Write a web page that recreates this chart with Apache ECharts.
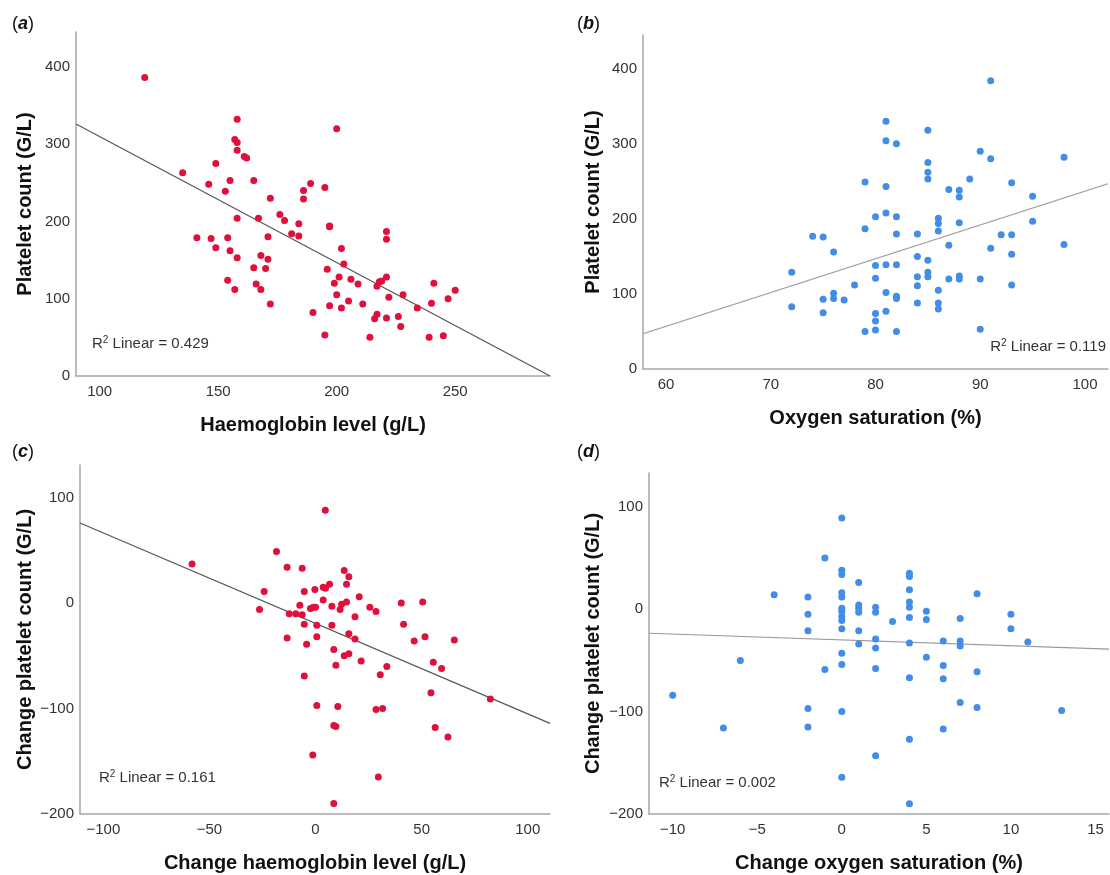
<!DOCTYPE html>
<html style="height: 100%">
<head>
    <meta charset="utf-8">
    <script src="https://cdn.jsdelivr.net/npm/echarts@6/dist/echarts.min.js"></script>
</head>
<body style="height: 100%; margin: 0; background: #fff">
<div id="container" style="width: 1110px; height: 875px"></div>

<script type="text/javascript">
    // (a) haemoglobin vs platelet count
    var hbA = [119,158,200,157,158,158,161,162,149,135,146,155,165,153,189,195,186,186,172,176,
        178,158,167,184,197,197,181,184,141,147,154,171,221,221,149,202,155,158,168,171,
        203,165,170,196,201,221,206,209,199,218,219,217,154,166,157,168,241,250,200,222,
        228,247,240,172,197,205,211,202,234,190,217,216,221,226,227,195,214,239,245];
    var pltA = [386,332,320,306,302,292,284,282,275,263,248,253,253,239,249,244,240,229,230,209,
        201,204,204,197,194,193,184,181,179,178,179,180,187,177,166,165,162,153,156,151,
        145,140,139,138,128,128,125,119,120,122,123,116,124,119,112,112,120,111,105,102,
        105,100,94,93,91,97,93,88,88,82,80,74,75,77,64,53,50,50,52];

    // (b) oxygen saturation vs platelet count
    var spoB = [91,81,85,81,82,90,91,98,85,85,85,89,79,81,93,87,88,88,95,80,
        81,82,86,86,88,95,86,79,74,75,82,84,92,93,76,87,91,98,93,84,
        85,72,80,81,82,85,85,84,80,87,88,88,90,78,84,93,86,81,76,76,
        75,77,82,82,72,84,86,86,75,81,80,80,79,80,82,90];
    var pltB = [384,330,318,304,300,290,280,282,275,262,253,253,249,243,248,239,238,229,230,203,
        208,203,201,194,195,197,184,187,177,176,180,180,179,179,156,165,161,166,153,150,
        145,129,138,139,139,129,123,123,121,120,124,120,120,112,111,112,105,102,101,94,
        93,92,97,94,83,88,88,80,75,77,74,64,50,52,50,53];

    // (c) change haemoglobin vs change platelet count
    var dHbC = [4.6,-18.4,-58.2,-13.4,-6.3,13.5,15.7,-24.2,-5.3,-0.3,3.6,4.7,6.6,14.6,20.6,3.6,-7.4,-2.4,-1.1,0,
        7.7,12.3,14.6,11.6,25.6,28.5,40.4,50.5,-26.4,-12.4,-9.3,-6.3,18.6,-5.3,0.6,7.7,41.5,-13.4,0.6,15.7,
        18.6,46.5,51.6,65.4,-4.2,8.6,15.7,13.5,21.5,55.5,9.6,33.6,59.4,30.5,-5.3,54.4,82.4,0.6,10.5,28.5,
        31.6,8.6,9.6,56.4,62.4,-1.3,29.6,8.6];
    var dPltC = [88,49,37,34,33,31,25,11,11,13,15,14,18,18,6,3,-2,-5,-4,-4,
        -3,-1,1,-6,-4,-8,0,1,-6,-10,-10,-11,-13,-20,-21,-21,-20,-33,-32,-29,
        -34,-36,-32,-35,-39,-44,-48,-50,-55,-56,-59,-60,-62,-68,-69,-85,-91,-97,-98,-101,
        -100,-116,-117,-118,-127,-144,-165,-190];

    // (d) change oxygen saturation vs change platelet count
    var dSpoD = [0,-1,0,0,1,4,4,-4,-2,0,0,4,8,0,0,0,0,1,1,1,
        2,2,4,4,5,5,-2,4,3,7,10,-2,0,1,10,2,6,7,7,11,
        1,4,2,0,-6,5,0,6,-1,2,8,4,6,-10,7,-2,8,0,13,-7,
        -2,6,4,2,0,4];
    var dPltD = [89,50,38,34,26,35,32,14,12,16,12,19,15,1,-2,-7,-11,4,1,-3,
        2,-3,7,2,-2,-10,-5,-8,-12,-9,-5,-21,-19,-21,-19,-29,-31,-31,-36,-32,
        -34,-33,-38,-43,-50,-47,-54,-55,-59,-58,-61,-67,-68,-84,-91,-97,-96,-100,-99,-116,
        -115,-117,-127,-143,-164,-190];

    // fitted lines [intercept, slope] and R squared
    var fitA = [472.7, -1.63], fitB = [-213.1, 4.5], fitC = [-19.2, -0.858], fitD = [-30, -0.57];
    var r2 = ['0.429', '0.119', '0.161', '0.002'];

    // axis ranges and tick labels
    var xRange = [[90, 290], [57.8, 102.2], [-111, 110.5], [-11.4, 15.8]];
    var yRange = [[0, 445], [0, 445], [-200, 131], [-200, 133]];
    var xTicks = [[100, 150, 200, 250], [60, 70, 80, 90, 100], [-100, -50, 0, 50, 100], [-10, -5, 0, 5, 10, 15]];
    var yTicks = [[0, 100, 200, 300, 400], [0, 100, 200, 300, 400], [-200, -100, 0, 100], [-200, -100, 0, 100]];

    var xTitles = ['Haemoglobin level (g/L)', 'Oxygen saturation (%)', 'Change haemoglobin level (g/L)', 'Change oxygen saturation (%)'];
    var yTitles = ['Platelet count (G/L)', 'Platelet count (G/L)', 'Change platelet count (G/L)', 'Change platelet count (G/L)'];
    var letters = ['a', 'b', 'c', 'd'];

    var RED = '#e0103c', BLUE = '#428de6';
    var FONT = '"Liberation Sans", Arial, sans-serif';

    var grids = [
        {left: 76, top: 32, width: 474, height: 344},
        {left: 643, top: 35, width: 465, height: 334},
        {left: 80, top: 465, width: 470, height: 349},
        {left: 649, top: 473, width: 460, height: 341}
    ];

    function pairs(xs, ys) {
        return xs.map(function (x, i) { return [x, ys[i]]; });
    }
    function fitLine(fit, range) {
        return [[range[0], fit[0] + fit[1] * range[0]], [range[1], fit[0] + fit[1] * range[1]]];
    }
    function minus(v) { return String(v).replace('-', '\u2212'); }

    var xAxes = [], yAxes = [], graphics = [];
    grids.forEach(function (g, i) {
        xAxes.push({
            type: 'value', gridIndex: i, min: xRange[i][0], max: xRange[i][1],
            axisLine: {onZero: false, lineStyle: {color: '#a6a6a6', width: 1.5}},
            axisTick: {show: false}, splitLine: {show: false},
            axisLabel: {customValues: xTicks[i], formatter: minus, color: '#333', fontSize: 15, fontFamily: FONT, margin: 8}
        });
        yAxes.push({
            type: 'value', gridIndex: i, min: yRange[i][0], max: yRange[i][1],
            axisLine: {show: true, onZero: false, lineStyle: {color: '#a6a6a6', width: 1.5}},
            axisTick: {show: false}, splitLine: {show: false},
            axisLabel: {customValues: yTicks[i], formatter: minus, color: '#333', fontSize: 15, fontFamily: FONT, margin: 6}
        });
        // axis titles
        graphics.push({
            type: 'text', x: g.left + g.width / 2, y: g.top + g.height + 49,
            style: {text: xTitles[i], font: 'bold 20px ' + FONT, fill: '#111', align: 'center', verticalAlign: 'middle'}
        });
        graphics.push({
            type: 'text', x: (i % 2 ? 593 : 25), y: g.top + g.height / 2, rotation: Math.PI / 2,
            style: {text: yTitles[i], font: 'bold 20px ' + FONT, fill: '#111', align: 'center', verticalAlign: 'middle'}
        });
        // panel letters
        graphics.push({
            type: 'text', x: (i % 2 ? 577 : 12), y: (i < 2 ? 24 : 452),
            style: {
                text: '({l|' + letters[i] + '})', font: '18px ' + FONT, fill: '#111', verticalAlign: 'middle',
                rich: {l: {font: 'italic bold 18px ' + FONT, fill: '#111'}}
            }
        });
    });

    // R squared annotations
    var r2Pos = [
        {x: 92, y: 344, align: 'left'},
        {x: 1106, y: 347, align: 'right'},
        {x: 99, y: 778, align: 'left'},
        {x: 659, y: 783, align: 'left'}
    ];
    r2Pos.forEach(function (p, i) {
        graphics.push({
            type: 'text', x: p.x, y: p.y,
            style: {
                text: 'R{s|2} Linear = ' + r2[i], font: '15px ' + FONT, fill: '#333', align: p.align, verticalAlign: 'middle',
                rich: {s: {font: '10px ' + FONT, fill: '#333', verticalAlign: 'top', padding: [0, 0, 8, 0]}}
            }
        });
    });

    var scatters = [pairs(hbA, pltA), pairs(spoB, pltB), pairs(dHbC, dPltC), pairs(dSpoD, dPltD)];
    var fits = [fitA, fitB, fitC, fitD];
    var colors = [RED, BLUE, RED, BLUE];
    var lineColors = ['#555', '#999', '#555', '#999'];

    var series = [];
    scatters.forEach(function (d, i) {
        series.push({
            type: 'line', xAxisIndex: i, yAxisIndex: i, data: fitLine(fits[i], xRange[i]),
            symbol: 'none', silent: true, lineStyle: {color: lineColors[i], width: 1.2}, z: 1
        });
        series.push({
            type: 'scatter', xAxisIndex: i, yAxisIndex: i, data: d,
            symbolSize: 7, itemStyle: {color: colors[i], opacity: 1}, z: 2
        });
    });

    var myChart = echarts.init(document.getElementById('container'));
    myChart.setOption({
        animation: false,
        backgroundColor: '#fff',
        grid: grids,
        xAxis: xAxes,
        yAxis: yAxes,
        graphic: graphics,
        series: series
    });
</script>
</body>
</html>
